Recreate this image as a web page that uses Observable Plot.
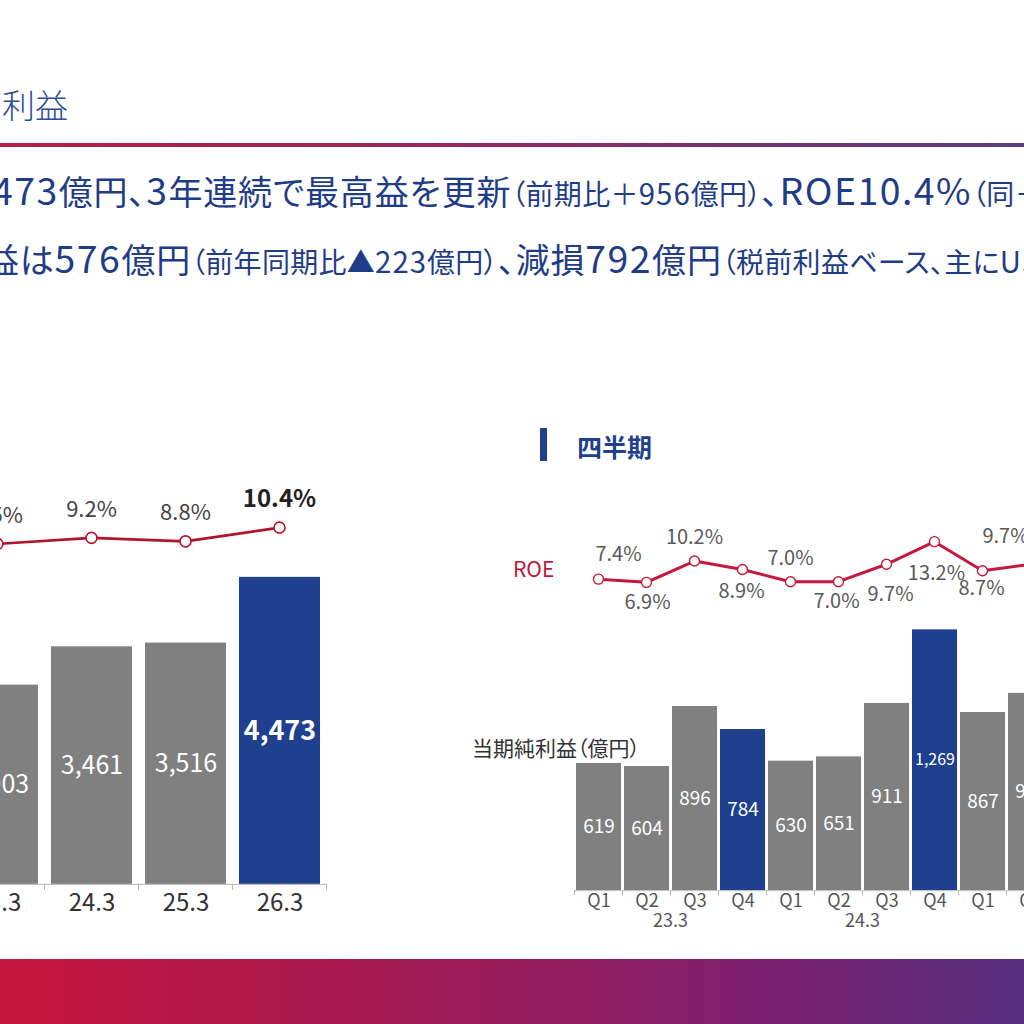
<!DOCTYPE html>
<html lang="ja">
<head>
<meta charset="utf-8">
<script src="https://cdn.jsdelivr.net/npm/d3@7"></script>
<script src="https://cdn.jsdelivr.net/npm/@observablehq/plot@0.6"></script>
<style>
  html, body { margin: 0; padding: 0; }
  body {
    width: 1024px; height: 1024px; overflow: hidden; position: relative; background: #fff;
    font-family: "Noto Sans CJK JP", "Noto Sans", sans-serif;
  }
  .abs { position: absolute; white-space: nowrap; }
  .cut { position: absolute; right: 100%; top: 0; white-space: nowrap; }
  #title { left: 2px; top: 82px; font-size: 33px; line-height: 44px; font-weight: 300; color: #2b4c9b; }
  #title .cut { padding-right: 8px; }
  #rule { left: 0; top: 143px; width: 1024px; height: 4px;
    background: linear-gradient(90deg, #b51d45 0%, #922761 50%, #5b3c87 100%); }
  .lead { color: #1f3c88; font-size: 34px; line-height: 40px; letter-spacing: 0.8px; font-feature-settings: "palt" 1; }
  .lead small { font-size: 28px; letter-spacing: 0.3px; }
  .lead .n { font-size: 1.1em; letter-spacing: 1.5px; }
  .lead small .n { font-size: 1.05em; letter-spacing: 1px; }
  #l1 { left: -8px; top: 169px; }
  #l2 { left: -15px; top: 237px; }
  #qhead-bar { left: 540px; top: 428px; width: 7px; height: 33px; background: #1f3f8f; }
  #qhead { left: 577px; top: 431px; font-size: 25px; line-height: 30px; font-weight: 700; color: #1f3f8f; }
  #roe-tag { left: 513px; top: 555px; font-size: 21px; line-height: 26px; color: #c0143c; }
  #ylab { left: 472px; top: 735px; font-size: 21px; line-height: 24px; color: #333; font-feature-settings: "palt" 1; }
  #band { left: 0; top: 959px; width: 1024px; height: 65px;
    background: linear-gradient(90deg, #c6163e 0%, #aa1a4d 30%, #911c5d 55%, #7a2070 75%, #56307d 100%); }
</style>
</head>
<body>
<div id="title" class="abs"><span class="cut">当期純</span>利益</div>
<div id="rule" class="abs"></div>
<div id="l1" class="abs lead"><span class="cut">・当期純利益は<span class="n">4,</span></span><span class="n">473</span>億円、<span class="n">3</span>年連続で最高益を更新<small>（前期比＋<span class="n">956</span>億円）</small>、<span class="n">ROE10.4%</span><small>（同＋<span class="n">1.6pt</span>）</small></div>
<div id="l2" class="abs lead"><span class="cut">・第4四半期の当期純利</span>益は<span class="n">576</span>億円<small>（前年同期比▲<span class="n">223</span>億円）</small>、減損<span class="n">792</span>億円<small>（税前利益ベース、主に<span class="n">US</span></small></div>
<div id="qhead-bar" class="abs"></div>
<div id="qhead" class="abs">四半期</div>
<div id="roe-tag" class="abs">ROE</div>
<div id="ylab" class="abs">当期純利益（億円）</div>
<div id="band" class="abs"></div>
<script>
// ---- annual figures (fiscal years ending March) ----
const fiscalYears = ["23.3", "24.3", "25.3", "26.3"];
const annualProfit = [2903, 3461, 3516, 4473];      // 当期純利益（億円）
const annualRoe = [8.5, 9.2, 8.8, 10.4];            // ROE (%)

// ---- quarterly figures ----
const quarterYears = ["23.3", "23.3", "23.3", "23.3", "24.3", "24.3", "24.3", "24.3", "25.3", "25.3"];
const quarterNames = ["Q1", "Q2", "Q3", "Q4", "Q1", "Q2", "Q3", "Q4", "Q1", "Q2"];
const quarterlyProfit = [619, 604, 896, 784, 630, 651, 911, 1269, 867, 960];
const quarterlyRoe = [7.4, 6.9, 10.2, 8.9, 7.0, 7.0, 9.7, 13.2, 8.7, 9.7];

// label placement for the quarterly ROE values [dx, dy]
const roeLabelOffsets = [[20, -25], [1, 20], [0, -23], [-1, 22], [0, -23], [-2, 20], [4, 30], [2, 32], [-1, 18], [-25, -28]];

const FONT = "'Noto Sans CJK JP', 'Noto Sans', sans-serif";
const GRAY = "#808080";
const BLUE = "#1f3f8f";

const annual = fiscalYears.map((y, i) => ({key: y, value: annualProfit[i], roe: annualRoe[i], latest: i === fiscalYears.length - 1}));
const quarterly = quarterNames.map((q, i) => ({key: quarterYears[i] + " " + q, year: quarterYears[i], q, value: quarterlyProfit[i], roe: quarterlyRoe[i]}));

function place(svg, left, top) {
  const wrap = document.createElement("div");
  wrap.className = "abs";
  wrap.style.left = left + "px";
  wrap.style.top = top + "px";
  wrap.appendChild(svg);
  document.body.appendChild(wrap);
}

function bandInfo(scales) {
  const sx = scales.x;
  const desc = scales.scales ? scales.scales.x : {};
  const bw = typeof sx.bandwidth === "function" ? sx.bandwidth() : desc.bandwidth;
  const step = typeof sx.step === "function" ? sx.step() : desc.step;
  const dom = typeof sx.domain === "function" ? sx.domain() : desc.domain;
  return {sx, bw, step, dom};
}

// x-axis ticks drawn at the band boundaries
function boundaryTicks(len, color) {
  return (index, scales) => {
    const {sx, bw, step, dom} = bandInfo(scales);
    const gap = step - bw;
    const y0 = scales.y(0);
    const xs = dom.map(k => sx(k) - gap / 2).concat([sx(dom[dom.length - 1]) + bw + gap / 2]);
    const g = d3.create("svg:g");
    g.selectAll("line").data(xs).join("line")
      .attr("x1", d => d).attr("x2", d => d)
      .attr("y1", y0).attr("y2", y0 + len)
      .attr("stroke", color).attr("stroke-width", 1);
    return g.node();
  };
}

// fiscal-year captions centred under each year's four quarters
function yearCaptions(offset) {
  return (index, scales) => {
    const {sx, bw, step} = bandInfo(scales);
    const years = Array.from(new Set(quarterYears));
    const rows = years.map(y => {
      const keys = quarterly.filter(d => d.year === y).map(d => d.key);
      return {y, x: sx(keys[0]) + (4 * step - (step - bw)) / 2};
    });
    const g = d3.create("svg:g");
    g.selectAll("text").data(rows).join("text")
      .attr("x", d => d.x).attr("y", scales.y(0) + offset)
      .attr("text-anchor", "middle").attr("dominant-baseline", "middle")
      .attr("font-size", 18).attr("fill", "#555").attr("font-family", FONT)
      .text(d => d.y);
    return g.node();
  };
}

const baseStyle = {fontFamily: FONT, background: "transparent", overflow: "visible", maxWidth: "none"};

// ===== annual chart =====
const annualX = {domain: fiscalYears, paddingInner: 0.14, paddingOuter: 0.07};

const annualRoePlot = Plot.plot({
  width: 416, height: 94.24, marginLeft: 20, marginRight: 20, marginTop: 45, marginBottom: 15,
  style: baseStyle,
  x: {...annualX, axis: null},
  y: {domain: [7, 11], axis: null},
  marks: [
    Plot.line(annual, {x: "key", y: "roe", stroke: "#b3122d", strokeWidth: 2.7}),
    Plot.dot(annual, {x: "key", y: "roe", r: 5.5, fill: "#fff", stroke: "#b3122d", strokeWidth: 1.6}),
    Plot.text(annual.filter(d => !d.latest), {x: "key", y: "roe", text: d => d.roe.toFixed(1) + "%", dy: -28, fontSize: 22, fill: "#444", fontFamily: FONT}),
    Plot.text(annual.filter(d => d.latest), {x: "key", y: "roe", text: d => d.roe.toFixed(1) + "%", dy: -28, fontSize: 24, fontWeight: 700, fill: "#222", fontFamily: FONT})
  ]
});
place(annualRoePlot, -69.6, 477.2);

const annualBarPlot = Plot.plot({
  width: 416, height: 348.9, marginLeft: 20, marginRight: 20, marginTop: 5, marginBottom: 35,
  style: {...baseStyle, fontSize: "24px", color: "#333"},
  x: {...annualX, tickSize: 0, tickPadding: 10, label: null},
  y: {domain: [0, 4500], axis: null},
  color: {type: "identity"},
  marks: [
    Plot.barY(annual, {x: "key", y: "value", fill: d => d.latest ? BLUE : GRAY}),
    Plot.ruleY([0], {stroke: "#b5b5b5"}),
    boundaryTicks(6, "#b5b5b5"),
    Plot.text(annual.filter(d => !d.latest), {x: "key", y: d => d.value / 2, text: d => d3.format(",")(d.value), fill: "#fff", fontSize: 25, fontFamily: FONT}),
    Plot.text(annual.filter(d => d.latest), {x: "key", y: d => d.value / 2, text: d => d3.format(",")(d.value), fill: "#fff", fontSize: 27, fontWeight: 700, fontFamily: FONT})
  ]
});
place(annualBarPlot, -69.6, 570.1);

// ===== quarterly chart =====
const quarterX = {domain: quarterly.map(d => d.key), paddingInner: 0.0625, paddingOuter: 0.03125};

const quarterRoePlot = Plot.plot({
  width: 520, height: 131.68, marginLeft: 20, marginRight: 20, marginTop: 40, marginBottom: 40,
  style: baseStyle,
  x: {...quarterX, axis: null},
  y: {domain: [6, 14], axis: null},
  marks: [
    Plot.line(quarterly, {x: "key", y: "roe", stroke: "#c4183f", strokeWidth: 3}),
    Plot.dot(quarterly, {x: "key", y: "roe", r: 5, fill: "#fff", stroke: "#c4183f", strokeWidth: 1.4}),
    ...quarterly.map((d, i) => Plot.text([d], {
      x: "key", y: "roe", text: r => r.roe.toFixed(1) + "%",
      dx: roeLabelOffsets[i][0], dy: roeLabelOffsets[i][1],
      fontSize: 20, fill: "#595959", fontFamily: FONT
    }))
  ]
});
place(quarterRoePlot, 553.5, 495.8);

const quarterBarPlot = Plot.plot({
  width: 520, height: 322.15, marginLeft: 20, marginRight: 20, marginTop: 10, marginBottom: 45,
  style: {...baseStyle, fontSize: "18px", color: "#555"},
  x: {...quarterX, tickSize: 0, tickPadding: 4, tickFormat: k => k.split(" ")[1], label: null},
  y: {domain: [0, 1300], axis: null},
  color: {type: "identity"},
  marks: [
    Plot.barY(quarterly, {x: "key", y: "value", fill: d => d.q === "Q4" ? BLUE : GRAY}),
    Plot.ruleY([0], {stroke: "#bdbdbd"}),
    boundaryTicks(5, "#bdbdbd"),
    Plot.text(quarterly.filter(d => d.value < 1000), {x: "key", y: d => d.value / 2, text: d => d3.format(",")(d.value), fill: "#fff", fontSize: 19, fontFamily: FONT}),
    Plot.text(quarterly.filter(d => d.value >= 1000), {x: "key", y: d => d.value / 2, text: d => d3.format(",")(d.value), fill: "#fff", fontSize: 16, fontFamily: FONT}),
    yearCaptions(32)
  ]
});
place(quarterBarPlot, 553.5, 612.85);
</script>
</body>
</html>
